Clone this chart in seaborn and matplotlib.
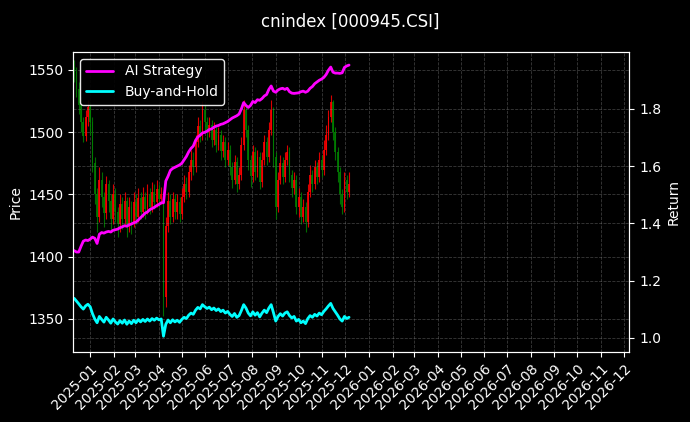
import numpy as np
import pandas as pd
import matplotlib
matplotlib.use("Agg")
import matplotlib.pyplot as plt
import matplotlib.dates as mdates
import seaborn as sns

# ---- data ----
start_date = "2024-12-11"
step = "3D"
close = [1548, 1535, 1522, 1508, 1497, 1512, 1520, 1508, 1475, 1450,
         1432, 1462, 1448, 1435, 1458, 1445, 1430, 1450, 1436, 1426,
         1442, 1430, 1445, 1425, 1440, 1428, 1444, 1432, 1447, 1436,
         1448, 1438, 1450, 1440, 1452, 1444, 1454, 1446, 1450, 1368,
         1425, 1445, 1432, 1446, 1436, 1444, 1434, 1448, 1458, 1452,
         1468, 1478, 1472, 1492, 1505, 1498, 1518, 1508, 1500, 1506,
         1494, 1502, 1490, 1498, 1485, 1492, 1478, 1486, 1472, 1462,
         1476, 1458, 1466, 1490, 1518, 1502, 1478, 1465, 1484, 1468,
         1480, 1460, 1478, 1492, 1480, 1502, 1518, 1480, 1440, 1462,
         1475, 1464, 1478, 1484, 1466, 1455, 1462, 1440, 1448, 1432,
         1440, 1428, 1452, 1466, 1458, 1472, 1464, 1478, 1470, 1486,
         1498, 1512, 1524, 1500, 1484, 1468, 1450, 1440, 1462, 1452,
         1458]
high = [1558, 1552, 1540, 1528, 1512, 1518, 1526, 1524, 1512, 1480,
        1455, 1472, 1468, 1452, 1465, 1462, 1450, 1458, 1455, 1440,
        1450, 1448, 1452, 1448, 1448, 1445, 1452, 1450, 1455, 1452,
        1456, 1452, 1458, 1455, 1460, 1458, 1462, 1458, 1456, 1452,
        1432, 1452, 1450, 1452, 1450, 1450, 1448, 1455, 1466, 1464,
        1474, 1486, 1484, 1498, 1512, 1510, 1525, 1522, 1512, 1512,
        1510, 1508, 1506, 1504, 1502, 1498, 1496, 1492, 1490, 1476,
        1482, 1480, 1472, 1496, 1526, 1522, 1506, 1482, 1490, 1488,
        1486, 1484, 1484, 1498, 1496, 1508, 1526, 1520, 1484, 1468,
        1482, 1480, 1484, 1490, 1488, 1470, 1468, 1466, 1455, 1452,
        1446, 1444, 1458, 1474, 1470, 1478, 1476, 1484, 1482, 1494,
        1506, 1518, 1530, 1526, 1504, 1488, 1472, 1454, 1468, 1466,
        1468]
low = [1540, 1528, 1515, 1500, 1492, 1493, 1505, 1498, 1468, 1442,
       1420, 1428, 1440, 1424, 1430, 1436, 1420, 1426, 1428, 1416,
       1420, 1422, 1426, 1416, 1420, 1418, 1424, 1426, 1428, 1430,
       1432, 1430, 1434, 1434, 1436, 1438, 1440, 1440, 1442, 1352,
       1360, 1420, 1426, 1428, 1430, 1430, 1428, 1430, 1444, 1446,
       1448, 1462, 1466, 1468, 1488, 1492, 1494, 1502, 1494, 1496,
       1488, 1490, 1484, 1486, 1478, 1480, 1472, 1474, 1466, 1455,
       1458, 1452, 1454, 1462, 1486, 1496, 1470, 1456, 1460, 1462,
       1464, 1454, 1456, 1474, 1474, 1476, 1498, 1472, 1430, 1436,
       1458, 1458, 1460, 1474, 1460, 1448, 1450, 1434, 1432, 1426,
       1428, 1420, 1424, 1448, 1452, 1454, 1458, 1460, 1464, 1466,
       1482, 1494, 1508, 1494, 1478, 1460, 1442, 1434, 1436, 1446,
       1448]
first_open = 1552
ai_strategy = [1.305, 1.300, 1.300, 1.320, 1.338, 1.342, 1.340, 1.345, 1.352, 1.348,
               1.330, 1.362, 1.368, 1.366, 1.370, 1.372, 1.370, 1.376, 1.378, 1.380,
               1.385, 1.388, 1.392, 1.390, 1.395, 1.398, 1.402, 1.405, 1.412, 1.420,
               1.428, 1.436, 1.440, 1.448, 1.452, 1.456, 1.462, 1.466, 1.472, 1.472,
               1.548, 1.565, 1.585, 1.592, 1.596, 1.600, 1.604, 1.610, 1.622, 1.634,
               1.650, 1.662, 1.670, 1.690, 1.702, 1.708, 1.716, 1.718, 1.722, 1.728,
               1.730, 1.736, 1.740, 1.742, 1.746, 1.748, 1.752, 1.756, 1.762, 1.768,
               1.772, 1.776, 1.782, 1.800, 1.822, 1.812, 1.805, 1.812, 1.826, 1.822,
               1.832, 1.830, 1.836, 1.845, 1.850, 1.868, 1.880, 1.862, 1.858, 1.866,
               1.870, 1.872, 1.868, 1.872, 1.860, 1.855, 1.854, 1.855, 1.856, 1.860,
               1.862, 1.858, 1.862, 1.872, 1.878, 1.888, 1.894, 1.900, 1.904, 1.910,
               1.920, 1.935, 1.946, 1.928, 1.925, 1.925, 1.924, 1.926, 1.945, 1.950,
               1.953]
bh_base = 1360.0
title = "cnindex [000945.CSI]"
price_ticks = [1350, 1400, 1450, 1500, 1550]
return_ticks = [1.0, 1.2, 1.4, 1.6, 1.8]

# ---- frame ----
dates = pd.date_range(start_date, periods=len(close), freq=step)
close_arr = np.array(close, dtype=float)
open_arr = np.concatenate([[first_open], close_arr[:-1]])
df = pd.DataFrame({"date": dates, "open": open_arr, "close": close_arr,
                   "high": high, "low": low,
                   "ai": ai_strategy, "bh": close_arr / bh_base})

plt.style.use("dark_background")
sns.set_style("dark", {"axes.facecolor": "black", "figure.facecolor": "black",
                       "axes.edgecolor": "white", "text.color": "white",
                       "axes.labelcolor": "white", "xtick.color": "white",
                       "ytick.color": "white", "xtick.bottom": True,
                       "ytick.left": True})
plt.rcParams["font.family"] = ["DejaVu Sans"]

fig = plt.figure(figsize=(6.9, 4.22), dpi=100)
ax = fig.add_axes([0.106, 0.166, 0.806, 0.711])
ax2 = ax.twinx()

up = (df["close"] >= df["open"]).values
lo = np.minimum(df["open"], df["close"]).values
hi = np.maximum(df["open"], df["close"]).values
h = np.maximum(hi - lo, 0.8)
for mask, col in ((up, "red"), (~up, "green")):
    ax.vlines(df["date"][mask], df["low"][mask], df["high"][mask], color=col, linewidth=0.8, alpha=0.85)
    ax.bar(df["date"][mask], h[mask], bottom=lo[mask], width=2.4, color=col, alpha=0.85, linewidth=0)

sns.lineplot(data=df, x="date", y="ai", ax=ax2, color="#ff00ff", linewidth=2, label="AI Strategy")
sns.lineplot(data=df, x="date", y="bh", ax=ax2, color="#00ffff", linewidth=2, label="Buy-and-Hold")

ax.set_xlim(pd.Timestamp("2024-12-09 16:00"), pd.Timestamp("2026-12-08"))
ax.set_ylim(1323.5, 1564.5)
ax2.set_ylim(0.951, 1.999)
ax.set_yticks(price_ticks)
ax2.set_yticks(return_ticks)

ax.xaxis.set_major_locator(mdates.MonthLocator())
ax.xaxis.set_major_formatter(mdates.DateFormatter("%Y-%m"))
for lab in ax.get_xticklabels():
    lab.set_rotation(45)
    lab.set_ha("right")
    lab.set_rotation_mode("anchor")

ax.grid(True, color="gray", linestyle="--", linewidth=0.6, alpha=0.45)
ax2.grid(True, axis="y", color="gray", linestyle="--", linewidth=0.6, alpha=0.45)
ax.set_xlabel("")
ax.set_ylabel("Price", fontsize=10)
ax2.set_ylabel("Return", fontsize=10)
ax2.set_xlabel("")
for a in (ax, ax2):
    a.tick_params(labelsize=10, colors="white")
    for s in a.spines.values():
        s.set_color("white")

leg = ax2.legend(loc="upper left", fontsize=10, facecolor="black", edgecolor="white", framealpha=0.9)
for t in leg.get_texts():
    t.set_color("white")

fig.suptitle(title, color="white", fontsize=12, x=0.508, y=0.97)
fig.savefig("out.png", dpi=100, facecolor="black")
